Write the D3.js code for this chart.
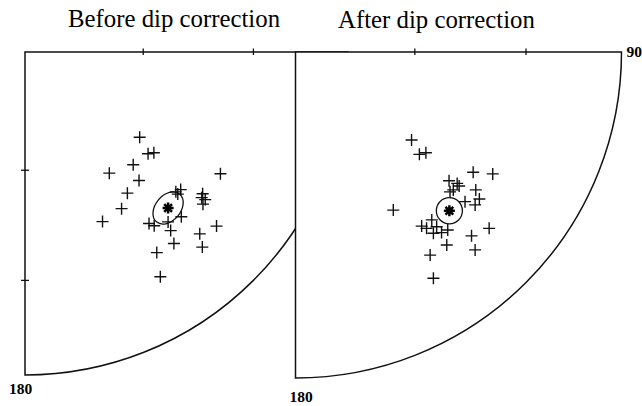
<!DOCTYPE html>
<html><head><meta charset="utf-8">
<script src="https://cdn.jsdelivr.net/npm/d3@7/dist/d3.min.js"></script>
<style>body{margin:0;background:#fff}svg{display:block}</style>
</head><body>
<script>
// Equal-area net, SE quadrant; coordinates in net-radius units (east, south)
const titles = ["Before dip correction", "After dip correction"];
const tickInclinations = [30, 60]; // degrees from vertical
const beforeEast  = [0.355,0.381,0.399,0.335,0.261,0.353,0.317,0.299,0.240,0.605,0.467,0.482,0.473,0.550,0.547,0.558,0.551,0.593,0.484,0.384,0.400,0.443,0.451,0.461,0.541,0.549,0.408,0.419];
const beforeSouth = [0.264,0.315,0.312,0.349,0.375,0.398,0.437,0.485,0.525,0.377,0.433,0.426,0.440,0.439,0.451,0.457,0.471,0.539,0.510,0.531,0.538,0.526,0.553,0.593,0.563,0.604,0.621,0.696];
const afterEast  = [0.356,0.380,0.400,0.545,0.605,0.471,0.496,0.502,0.484,0.474,0.553,0.564,0.551,0.520,0.300,0.387,0.402,0.418,0.433,0.423,0.448,0.467,0.594,0.540,0.464,0.551,0.413,0.423];
const afterSouth = [0.270,0.314,0.309,0.369,0.374,0.395,0.403,0.411,0.423,0.429,0.423,0.451,0.469,0.459,0.485,0.534,0.541,0.515,0.536,0.556,0.554,0.546,0.541,0.564,0.592,0.607,0.623,0.694];
const meanBefore = {east:0.443, south:0.483, a:0.056, b:0.039, rot:-50};
const meanAfter  = {east:0.472, south:0.487, a:0.040, b:0.040, rot:0};
const edgeLabels = ["90", "180"];

const W = 642, H = 406;
const svg = d3.select("body").append("svg").attr("width", W).attr("height", H);

function drawNet(cx, cy, R, east, south, mean, opts) {
  const x = d3.scaleLinear().domain([0,1]).range([cx, cx+R]);
  const y = d3.scaleLinear().domain([0,1]).range([cy, cy+R]);
  const radial = d => Math.SQRT2 * Math.sin(d * Math.PI / 360);
  const g = svg.append("g");
  const p = d3.path();
  p.moveTo(x(0), y(0)); p.lineTo(x(1), y(0));
  p.arc(x(0), y(0), R, 0, Math.PI/2);
  p.closePath();
  g.append("path").attr("d", p.toString()).attr("fill", "#fff")
    .attr("stroke", "#111").attr("stroke-width", 1.5).attr("stroke-linejoin", "miter");
  tickInclinations.forEach(t => {
    const r = radial(t);
    g.append("line").attr("x1", x(r)).attr("x2", x(r)).attr("y1", y(0)-3.5).attr("y2", y(0)+3)
      .attr("stroke", "#111").attr("stroke-width", 1.3);
    if (opts.leftTicks) g.append("line").attr("y1", y(r)).attr("y2", y(r)).attr("x1", x(0)-4).attr("x2", x(0)+4)
      .attr("stroke", "#111").attr("stroke-width", 1.3);
  });
  const s = 6;
  east.forEach((e, i) => {
    const px = x(e), py = y(south[i]);
    g.append("path").attr("d", `M${px-s},${py}H${px+s}M${px},${py-s}V${py+s}`)
      .attr("stroke", "#111").attr("stroke-width", 1.4).attr("fill", "none");
  });
  const mx = x(mean.east), my = y(mean.south);
  g.append("ellipse").attr("cx", mx).attr("cy", my)
    .attr("rx", x(mean.a) - x(0)).attr("ry", y(mean.b) - y(0))
    .attr("transform", `rotate(${mean.rot},${mx},${my})`)
    .attr("fill", "none").attr("stroke", "#111").attr("stroke-width", 1.3);
  const a = 5.5;
  let d = "";
  for (let k = 0; k < 4; k++) {
    const ang = k * Math.PI / 4;
    d += `M${mx - a*Math.cos(ang)},${my - a*Math.sin(ang)}L${mx + a*Math.cos(ang)},${my + a*Math.sin(ang)}`;
  }
  g.append("path").attr("d", d).attr("stroke", "#000").attr("stroke-width", 2.5);
  return {x, y, g};
}

const left = drawNet(25, 52, 323, beforeEast, beforeSouth, meanBefore, {leftTicks: true});
const right = drawNet(295.5, 52, 326, afterEast, afterSouth, meanAfter, {leftTicks: false});

svg.append("text").attr("x", 68).attr("y", 27).text(titles[0])
  .attr("font-family", "Liberation Serif, Times New Roman, serif").attr("font-size", 24.8);
svg.append("text").attr("x", 338).attr("y", 28).text(titles[1])
  .attr("font-family", "Liberation Serif, Times New Roman, serif").attr("font-size", 24.8);

const lab = (t, xx, yy) => svg.append("text").attr("x", xx).attr("y", yy).text(t)
  .attr("font-family", "Liberation Serif, Times New Roman, serif").attr("font-weight", "bold")
  .attr("font-size", 15.5);
lab(edgeLabels[0], right.x(1) + 5, 57);
lab(edgeLabels[1], left.x(0) - 16, 394);
lab(edgeLabels[1], right.x(0) - 6, 402);
</script>
</body></html>
